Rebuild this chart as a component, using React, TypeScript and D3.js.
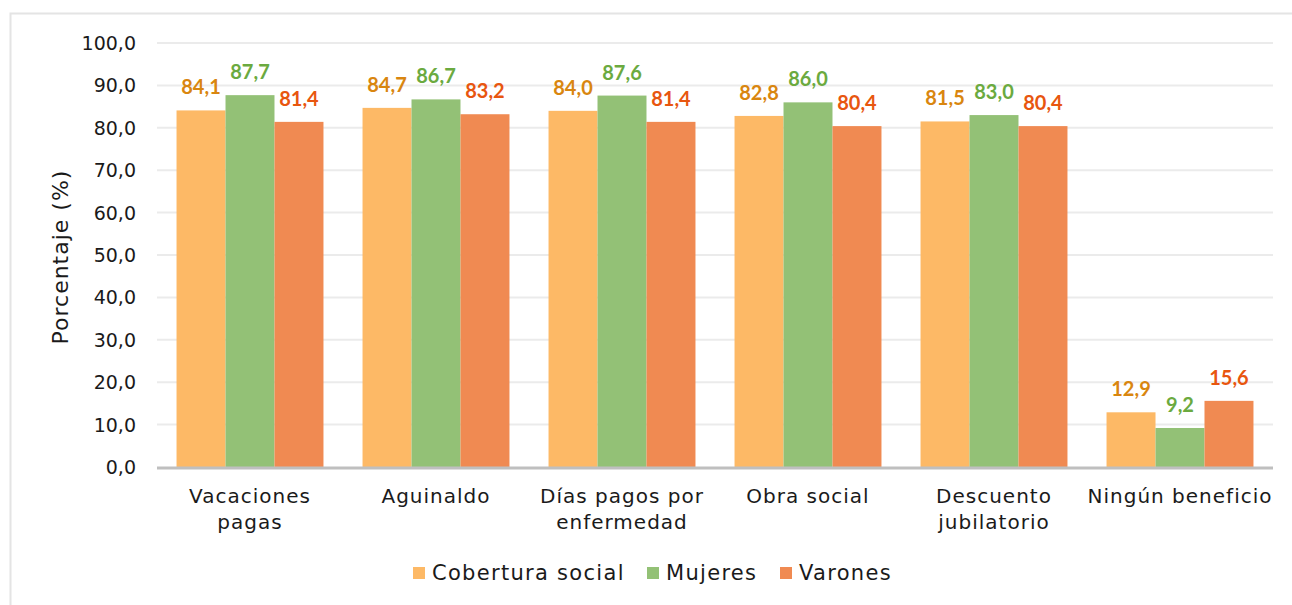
import { useEffect, useRef } from 'react';
import * as d3 from 'd3';

const categories = [
  ['Vacaciones', 'pagas'],
  ['Aguinaldo'],
  ['Días pagos por', 'enfermedad'],
  ['Obra social'],
  ['Descuento', 'jubilatorio'],
  ['Ningún beneficio'],
];
const seriesNames = ['Cobertura social', 'Mujeres', 'Varones'];
const cobertura = [84.1, 84.7, 84.0, 82.8, 81.5, 12.9];
const mujeres = [87.7, 86.7, 87.6, 86.0, 83.0, 9.2];
const varones = [81.4, 83.2, 81.4, 80.4, 80.4, 15.6];
const yTicks = [0, 10, 20, 30, 40, 50, 60, 70, 80, 90, 100];

const fills = ['#FDB966', '#93C176', '#F08A52'];
const labelColors = ['#D9860F', '#6BAA3F', '#E8560F'];

const FONT = '"DejaVu Sans", sans-serif';
const LABEL_FONT = 'Lato, "DejaVu Sans", sans-serif';

export default function App() {
  const svgRef = useRef<SVGSVGElement>(null);
  const width = 1292;
  const height = 605;

  useEffect(() => {
    if (!svgRef.current) return;
    const svg = d3.select(svgRef.current);
    svg.selectAll('*').remove();

    const left = 157, right = 1273, top = 43, bottom = 467;
    const keys = categories.map((c) => c.join(' '));
    const series = [cobertura, mujeres, varones];

    // frame
    svg.append('rect')
      .attr('x', 10.5).attr('y', 13.5)
      .attr('width', width + 10).attr('height', height + 10)
      .attr('fill', 'white').attr('stroke', '#E4E4E4').attr('stroke-width', 2);

    const x0 = d3.scaleBand()
      .domain(keys)
      .range([left, right])
      .paddingInner(0.21)
      .paddingOuter(0.105);
    const x1 = d3.scaleBand()
      .domain(seriesNames)
      .range([0, x0.bandwidth()]);
    const y = d3.scaleLinear().domain([0, 100]).range([bottom, top]);

    // grid
    svg.append('g')
      .selectAll('line')
      .data(yTicks.filter((t) => t > 0))
      .enter().append('line')
      .attr('x1', left).attr('x2', right)
      .attr('y1', (d) => y(d)).attr('y2', (d) => y(d))
      .attr('stroke', '#EBEBEB').attr('stroke-width', 2);

    // y tick labels
    svg.append('g')
      .selectAll('text')
      .data(yTicks)
      .enter().append('text')
      .attr('x', 136).attr('y', (d) => y(d) + 7)
      .attr('text-anchor', 'end')
      .attr('font-family', FONT).attr('font-size', 19)
      .attr('fill', '#1a1a1a')
      .text((d) => d.toFixed(1).replace('.', ','));

    // y title
    svg.append('text')
      .attr('transform', `translate(68,${(top + bottom) / 2 + 2}) rotate(-90)`)
      .attr('text-anchor', 'middle')
      .attr('font-family', FONT).attr('font-size', 22).attr('letter-spacing', 1)
      .attr('fill', '#1a1a1a')
      .text('Porcentaje (%)');

    // bars
    const groups = svg.append('g')
      .selectAll('g')
      .data(keys)
      .enter().append('g')
      .attr('transform', (d) => `translate(${x0(d)},0)`);

    groups.selectAll('rect')
      .data((_, i) => series.map((s, j) => ({ name: seriesNames[j], v: s[i], j })))
      .enter().append('rect')
      .attr('x', (d) => x1(d.name)!)
      .attr('width', x1.bandwidth())
      .attr('y', (d) => y(d.v))
      .attr('height', (d) => bottom - y(d.v))
      .attr('fill', (d) => fills[d.j]);

    groups.selectAll('text')
      .data((_, i) => series.map((s, j) => ({ name: seriesNames[j], v: s[i], j })))
      .enter().append('text')
      .attr('x', (d) => x1(d.name)! + x1.bandwidth() / 2)
      .attr('y', (d) => y(d.v) - 16)
      .attr('text-anchor', 'middle')
      .attr('font-family', LABEL_FONT).attr('font-size', 20).attr('font-weight', 'bold')
      .attr('fill', (d) => labelColors[d.j])
      .text((d) => d.v.toFixed(1).replace('.', ','));

    // x axis line
    svg.append('line')
      .attr('x1', left).attr('x2', right)
      .attr('y1', bottom + 1).attr('y2', bottom + 1)
      .attr('stroke', '#BFBFBF').attr('stroke-width', 3);

    // category labels
    const cat = svg.append('g')
      .selectAll('text')
      .data(categories)
      .enter().append('text')
      .attr('text-anchor', 'middle')
      .attr('font-family', FONT).attr('font-size', 20).attr('letter-spacing', 1)
      .attr('fill', '#1a1a1a');
    cat.selectAll('tspan')
      .data((d, i) => d.map((line) => ({ line, key: keys[i] })))
      .enter().append('tspan')
      .attr('x', (d) => x0(d.key)! + x0.bandwidth() / 2)
      .attr('y', (_, k) => 503 + k * 26)
      .text((d) => d.line);

    // legend
    const legendX = [413, 647, 780];
    const legend = svg.append('g')
      .selectAll('g')
      .data(seriesNames)
      .enter().append('g')
      .attr('transform', (_, i) => `translate(${legendX[i]},567)`);
    legend.append('rect')
      .attr('width', 12).attr('height', 12)
      .attr('fill', (_, i) => fills[i]);
    legend.append('text')
      .attr('x', 19).attr('y', 13)
      .attr('font-family', FONT).attr('font-size', 21).attr('letter-spacing', 1.3)
      .attr('fill', '#1a1a1a')
      .text((d) => d);
  }, []);

  return (
    <svg
      ref={svgRef}
      width={width}
      height={height}
      style={{ position: 'absolute', left: 0, top: 0 }}
    />
  );
}
